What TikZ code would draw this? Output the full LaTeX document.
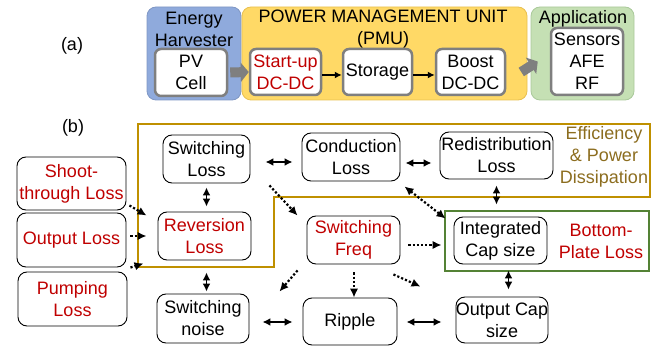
\documentclass[tikz,border=0pt]{standalone}
\usepackage{fontspec}
\setmainfont{Liberation Sans}
\usetikzlibrary{arrows.meta,calc}
\definecolor{myred}{HTML}{C00000}
\definecolor{mygold}{HTML}{BF9000}
\definecolor{mygoldtext}{HTML}{8C6D1F}
\definecolor{mygreen}{HTML}{548235}
\definecolor{ehblue}{HTML}{8FAADC}
\definecolor{ehblueb}{HTML}{7F97C4}
\definecolor{pmuyel}{HTML}{FFD966}
\definecolor{pmuyelb}{HTML}{E8C050}
\definecolor{appgreen}{HTML}{C5E0B4}
\definecolor{appgreenb}{HTML}{A9C99A}
\definecolor{boxgray}{HTML}{7F7F7F}
\tikzset{
  bbox/.style={draw=black, line width=0.9pt, rounded corners=9pt, fill=white, align=center, inner sep=0pt},
  abox/.style={draw=boxgray, line width=2.5pt, rounded corners=6pt, fill=white, align=center, inner sep=0pt},
  grp/.style={line width=0.8pt, rounded corners=9pt},
  dbl/.style={line width=1.8pt, {Latex[length=8pt,width=8pt]}-{Latex[length=8pt,width=8pt]}},
  dotarr/.style={line width=2.2pt, dash pattern=on 2.2pt off 2pt, -{Latex[length=9pt,width=8.5pt]}},
  dotdbl/.style={line width=2.2pt, dash pattern=on 2.2pt off 2pt, {Latex[length=9pt,width=8.5pt]}-{Latex[length=9pt,width=8.5pt]}},
  blkarr/.style={line width=1.8pt, -{Latex[length=7pt,width=7pt]}},
  grayarr/.style={line width=10pt, draw=boxgray, -{Triangle[length=8pt,width=19pt]}},
  lbl/.style={align=center, inner sep=0pt}
}
\begin{document}
\begin{tikzpicture}[x=1pt,y=-1pt,font=\fontsize{18}{22}\selectfont]
\useasboundingbox (0,0) rectangle (660,347);
% ---------- (a) ----------
\node[lbl] (la) at (72,46) {(a)};
\draw[grp, fill=ehblue, draw=ehblueb] (147,7) rectangle (241,100);
\draw[grp, fill=pmuyel, draw=pmuyelb] (242,7) rectangle (527,100);
\draw[grp, fill=appgreen, draw=appgreenb] (531,7) rectangle (634,100);
\node[lbl] (teh) at (194,29.5) {Energy\\Harvester};
\node[lbl] (tpmu) at (383,29.5) {POWER MANAGEMENT UNIT\\(PMU)};
\node[lbl] (tapp) at (583,18.5) {Application};
\node[abox, minimum width=72pt, minimum height=47pt] (pv) at (191,72.5) {PV\\Cell};
\node[abox, minimum width=71pt, minimum height=46pt, text=myred] (su) at (285.5,72) {Start-up\\DC-DC};
\node[abox, minimum width=69pt, minimum height=46pt] (st) at (377.5,72) {Storage};
\node[abox, minimum width=69pt, minimum height=46pt] (bo) at (470.5,72) {Boost\\DC-DC};
\node[abox, minimum width=72pt, minimum height=67pt] (se) at (587,61.5) {Sensors\\AFE\\RF};
\draw[grayarr] ($(pv.east)+(2,0)$) -- ($(su.west)+(0,0)$);
\draw[grayarr] ($(bo.east)+(15,0)$) -- ($(se.west)+(-12,0)$);
\draw[blkarr] ($(su.east)+(0,3)$) -- ($(st.west)+(0,3)$);
\draw[blkarr] ($(st.east)+(0,3)$) -- ($(bo.west)+(0,3)$);
% ---------- (b) ----------
\node[lbl] (lb) at (73,128) {(b)};
\draw[mygold, line width=2.6pt] (138,124) -- (650,124) -- (650,197) -- (274,197) -- (274,267) -- (138,267) -- cycle;
\draw[mygreen, line width=2.6pt] (445,211) rectangle (649,271);
\node[lbl, text=mygoldtext] (eff) at (604,157) {Efficiency\\\& Power\\Dissipation};
\node[lbl, text=myred] (bpl) at (601,241.5) {Bottom-\\Plate Loss};
\node[bbox, minimum width=87pt, minimum height=48pt] (swl) at (206.5,159) {Switching\\Loss};
\node[bbox, minimum width=98pt, minimum height=48pt] (cond) at (351,157) {Conduction\\Loss};
\node[bbox, minimum width=113pt, minimum height=47pt] (redis) at (496.5,155.5) {Redistribution\\Loss};
\node[bbox, minimum width=109pt, minimum height=53pt, text=myred] (shoot) at (71.5,183.5) {Shoot-\\through Loss};
\node[bbox, minimum width=109pt, minimum height=54pt, text=myred] (outl) at (71.5,240) {Output Loss};
\node[bbox, minimum width=109pt, minimum height=54pt, text=myred] (pump) at (72.5,299) {Pumping\\Loss};
\node[bbox, minimum width=93pt, minimum height=48pt, text=myred] (rev) at (204.5,236) {Reversion\\Loss};
\node[bbox, minimum width=93pt, minimum height=48pt, text=myred] (freq) at (353.5,240) {Switching\\Freq};
\node[bbox, minimum width=93pt, minimum height=47pt] (integ) at (500.5,240.5) {Integrated\\Cap size};
\node[bbox, minimum width=92pt, minimum height=49pt] (noise) at (203,318.5) {Switching\\noise};
\node[bbox, minimum width=94pt, minimum height=47pt] (ripple) at (350,321.5) {Ripple};
\node[bbox, minimum width=92pt, minimum height=46pt] (ocap) at (502,320) {Output Cap\\size};
% solid double arrows
\draw[dbl] ($(swl.east)+(15,3)$) -- ($(swl.east -| cond.west)+(-9,3)$);
\draw[dbl] ($(cond.east)+(5,6)$) -- ($(cond.east -| redis.west)+(-8,6)$);
\draw[dbl] ($(swl.south)+(0,4)$) -- ($(swl.south |- rev.north)+(0,-5)$);
\draw[dbl] ($(rev.south)+(2,12)$) -- ($(rev.south |- noise.north)+(2,-2)$);
\draw[dbl] ($(redis.south)+(0,6)$) -- ($(redis.south |- integ.north)+(0,-12)$);
\draw[dbl] ($(integ.south)+(8,6)$) -- ($(integ.south |- ocap.north)+(8,-7)$);
\draw[dbl] ($(noise.east)+(13,3.5)$) -- ($(noise.east -| ripple.west)+(-10,3.5)$);
\draw[dbl] ($(ripple.east)+(9,0.5)$) -- ($(ripple.east -| ocap.west)+(-14,0.5)$);
% dotted arrows
\draw[dotarr] ($(shoot.south east)+(3,-5)$) -- ($(rev.north west)+(-11,4)$);
\draw[dotarr] ($(outl.east)+(4,-4)$) -- ($(rev.west)+(-11,0)$);
\draw[dotarr] ($(pump.north east)+(3,-4)$) -- ($(rev.south west)+(-14,3)$);
\draw[dotarr] ($(swl.south east)+(19,2)$) -- ($(freq.north west)+(-9,0)$);
\draw[dotarr] ($(freq.south west)+(-9,6)$) -- ($(noise.north east)+(30,-2)$);
\draw[dotarr] ($(freq.south)+(0.5,8)$) -- ($(freq.south |- ripple.north)+(0.5,0)$);
\draw[dotarr] ($(freq.south east)+(-7,10)$) -- ($(ocap.north west)+(-35,-10)$);
\draw[dotarr] ($(freq.east)+(8,5)$) -- ($(integ.west)+(-12,4.5)$);
\draw[dotdbl] ($(cond.south east)+(4,5)$) -- ($(integ.north west)+(-8,2)$);
\end{tikzpicture}
\end{document}
